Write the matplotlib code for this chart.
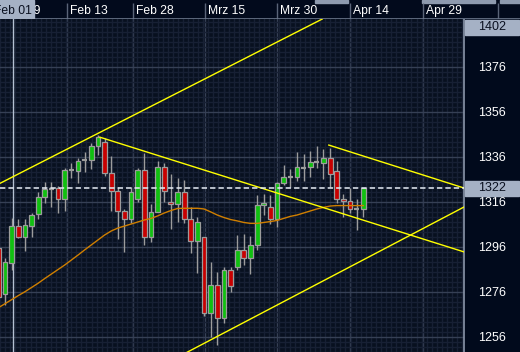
import numpy as np
import matplotlib.pyplot as plt
from matplotlib.patches import Rectangle
from matplotlib.ticker import FixedLocator

# Daily candles (index 0 = first, partly cut off at the left edge)
opens = [1295.6, 1275.1, 1288.9, 1305.3, 1300.4, 1305.3, 1310.7, 1318.2, 1321.8, 1322.2,
         1317.3, 1330.4, 1329.8, 1334.5, 1334.7, 1340.9, 1342.7, 1328.9, 1320.9, 1312.0,
         1308.4, 1317.3, 1330.2, 1300.4, 1311.6, 1331.6, 1316.0, 1315.1, 1320.4, 1308.4,
         1298.7, 1300.4, 1266.7, 1279.1, 1264.4, 1285.8, 1287.1, 1294.7, 1291.1, 1296.9,
         1314.7, 1313.8, 1308.4, 1324.4, 1327.1, 1327.1, 1331.1, 1331.6, 1333.8, 1333.3,
         1335.6, 1329.8, 1317.3, 1316.4, 1312.9, 1312.9]
closes = [1273.8, 1289.3, 1305.3, 1300.4, 1305.8, 1310.2, 1318.2, 1321.8, 1321.8, 1317.3,
          1330.2, 1330.4, 1334.2, 1334.5, 1340.9, 1344.9, 1328.9, 1320.9, 1312.0, 1308.4,
          1320.4, 1330.2, 1300.4, 1311.6, 1331.6, 1320.9, 1315.1, 1320.4, 1308.4, 1298.7,
          1307.1, 1266.7, 1279.1, 1264.4, 1285.8, 1278.7, 1294.7, 1291.1, 1296.9, 1314.7,
          1315.6, 1308.4, 1324.4, 1327.1, 1327.1, 1331.6, 1331.1, 1333.8, 1333.8, 1335.6,
          1328.4, 1317.3, 1316.4, 1312.9, 1312.9, 1322.0]
highs = [1302.7, 1291.1, 1308.9, 1308.4, 1308.4, 1311.1, 1320.4, 1324.9, 1324.9, 1323.1,
         1331.1, 1333.3, 1335.6, 1338.2, 1342.2, 1345.8, 1344.4, 1336.4, 1322.7, 1312.9,
         1322.7, 1331.1, 1337.8, 1315.1, 1334.2, 1333.3, 1328.4, 1326.7, 1325.8, 1313.8,
         1309.3, 1300.4, 1289.3, 1284.9, 1287.1, 1287.1, 1301.3, 1301.8, 1300.9, 1319.1,
         1319.6, 1319.1, 1325.0, 1332.4, 1330.7, 1338.2, 1337.3, 1338.7, 1340.9, 1339.6,
         1340.0, 1334.2, 1319.6, 1322.2, 1317.3, 1322.0]
lows = [1272.0, 1270.2, 1285.8, 1299.8, 1294.2, 1300.4, 1308.4, 1315.6, 1313.8, 1311.1,
        1312.0, 1326.7, 1324.4, 1329.3, 1330.7, 1336.9, 1327.6, 1312.0, 1299.6, 1293.8,
        1306.7, 1316.0, 1296.9, 1298.2, 1311.6, 1316.0, 1304.0, 1307.1, 1306.5, 1293.3,
        1284.4, 1265.3, 1256.0, 1252.4, 1262.2, 1276.0, 1285.8, 1288.0, 1284.0, 1294.7,
        1310.2, 1306.2, 1304.9, 1323.6, 1322.7, 1325.3, 1325.3, 1327.1, 1331.1, 1326.2,
        1322.7, 1315.6, 1309.3, 1311.1, 1303.6, 1309.3]
# moving average
ma = [1269.0, 1270.8, 1272.6, 1274.4, 1276.1, 1278.0, 1279.9, 1282.0, 1284.0, 1286.0,
      1288.0, 1290.2, 1292.4, 1294.7, 1296.9, 1299.1, 1301.3, 1303.1, 1304.4, 1305.3,
      1306.2, 1307.1, 1308.0, 1308.7, 1309.8, 1311.1, 1312.2, 1313.1, 1313.2, 1313.2,
      1313.2, 1312.9, 1311.6, 1310.2, 1309.1, 1308.2, 1307.6, 1306.9, 1306.5, 1306.5,
      1306.9, 1307.3, 1307.8, 1308.7, 1309.6, 1310.2, 1311.1, 1312.0, 1312.9, 1313.6,
      1314.2, 1314.4, 1314.4, 1314.4, 1314.4, 1314.4]

# trend lines: (start index, start price, end index, end price)
trend_lines = [(0.25, 1324.3, 48.8, 1397.3),
               (15.3, 1344.8, 70.2, 1293.8),
               (27.4, 1247.6, 70.2, 1313.8),
               (49.8, 1341.3, 70.2, 1322.2)]

date_labels = ['Jan 29', 'Feb 13', 'Feb 28', 'Mrz 15', 'Mrz 30', 'Apr 14', 'Apr 29']
date_pos = [0.4, 10.34, 20.29, 31.14, 41.99, 53.0, 64.0]
header_seps = [10.34, 20.29, 31.14, 41.99, 53.0, 64.0, 75.3]
price_ticks = [1256, 1276, 1296, 1316, 1336, 1356, 1376]
cursor_idx = 2
cursor_label = 'Feb 01'
top_label = 1402

# colours
bg = '#08101f'
panel = '#010a1c'
fine = '#172034'
major = '#364055'
border = '#8a96aa'
boxc = '#a5b1c5'
up, down, edge = '#10c010', '#c80000', '#9c9c9c'

W, H = 520, 352
ppb = 6.635               # pixels per bar
i0 = 1 - 5 / ppb          # index at left pixel edge
y_lo, y_hi = 1249.33, 1397.33


def frac(x0, y0, x1, y1):
    return [x0 / W, 1 - y1 / H, (x1 - x0) / W, (y1 - y0) / H]


fig = plt.figure(figsize=(W / 100, H / 100), dpi=100, facecolor=panel)
ax = fig.add_axes(frac(0, 19, 464, 352))
hdr = fig.add_axes(frac(0, 0, 520, 19))

# ---- main panel ----
ax.set_facecolor(bg)
ax.set_xlim(i0, i0 + 464 / ppb)
ax.set_ylim(y_lo, y_hi)

ax.xaxis.set_major_locator(FixedLocator(header_seps[:-1]))
step = (date_pos[2] - date_pos[1])
ax.xaxis.set_minor_locator(FixedLocator(np.arange(-0.5, 80, step / 13)))
ax.yaxis.set_major_locator(FixedLocator(price_ticks))
ax.yaxis.set_minor_locator(FixedLocator(np.arange(1236, 1400, 20 / 9)))
ax.grid(which='minor', color=fine, lw=1.0)
ax.grid(which='major', color=major, lw=1.0)
ax.set_axisbelow(True)
ax.tick_params(axis='x', which='both', length=0, labelbottom=False)
ax.tick_params(axis='y', which='both', length=0, left=False, labelleft=False,
               labelright=True, pad=10, labelsize=9, labelcolor='white')
for lab in ax.get_yticklabels():
    lab.set_fontfamily('Liberation Sans')
for s in ['top', 'left', 'bottom']:
    ax.spines[s].set_visible(False)
ax.spines['right'].set_color(border)
ax.spines['right'].set_linewidth(1.2)

idx = np.arange(len(opens))
o, c, h, l = map(np.array, (opens, closes, highs, lows))

ax.vlines(idx, l, h, color=edge, lw=1.0, zorder=3)
body_w = 0.72
for i in idx:
    if c[i] > o[i]:
        ax.bar(i, c[i] - o[i], bottom=o[i], width=body_w, color=up, edgecolor=edge, lw=0.9, zorder=4)
    elif c[i] < o[i]:
        ax.bar(i, o[i] - c[i], bottom=c[i], width=body_w, color=down, edgecolor=edge, lw=0.9, zorder=4)
    else:
        ax.hlines(o[i], i - body_w / 2, i + body_w / 2, color=edge, lw=1.6, zorder=4)

ax.plot(idx, ma, color='#d07f00', lw=1.0, zorder=5)

for xs, ys, xe, ye in trend_lines:
    ax.plot([xs, xe], [ys, ye], color='#ffff00', lw=1.0, zorder=6)

last = closes[-1]
ax.axhline(last, color='#e6ecf4', lw=1.1, dashes=(3.5, 2), zorder=6)

# cursor line
ax.axvline(cursor_idx + 0.2, color='#b4c0d2', lw=1.0, zorder=2)

# price boxes on the right scale
bt = ax.get_yaxis_transform()
ax.add_patch(Rectangle((1.003, last - 3.3), 0.115, 6.6, transform=bt, color=boxc,
                       clip_on=False, zorder=7))
ax.text(1.06, last, f'{last:.0f}', transform=bt, ha='center', va='center',
        fontsize=9, color='#0a1020', family='Liberation Sans', zorder=8)
ax.add_patch(Rectangle((1.003, (352 - 35) / 333), 0.115, 15 / 333,
                       transform=ax.transAxes, color=boxc, clip_on=False, zorder=7))
ax.text(1.06, (352 - 27.5) / 333, str(top_label), transform=ax.transAxes,
        ha='center', va='center', fontsize=9, color='#0a1020', family='Liberation Sans', zorder=8)

# ---- header with dates ----
hdr.set_xlim(i0, i0 + 520 / ppb)
hdr.set_ylim(19, 0)
hdr.axis('off')
hdr.add_patch(Rectangle((i0, 0), 520 / ppb, 19, color='#020a1c', zorder=0))
for a, b in [(315, 348), (422, 495), (500, 520)]:
    hdr.add_patch(Rectangle((i0 + a / ppb, 0), (b - a) / ppb, 2.5, color='#8e9aae', zorder=1))
hdr.vlines(header_seps, 3, 19, color='#5a6478', lw=1.0)
hdr.axhline(18.6, color='#6c788c', lw=1.2)
for p, lab in zip(date_pos, date_labels):
    hdr.text(p + 3 / ppb, 11, lab, ha='left', va='center', color='white',
             fontsize=8.7, family='Liberation Sans')
# cursor date box
cx = cursor_idx + 0.2
hdr.add_patch(Rectangle((cx - 21 / ppb, 0), 42 / ppb, 18, color=boxc, zorder=3))
hdr.text(cx, 10.5, cursor_label, ha='center', va='center', color='#0a1020',
         fontsize=8.7, family='Liberation Sans', zorder=4)

plt.savefig('out.png', dpi=100, facecolor=panel)
